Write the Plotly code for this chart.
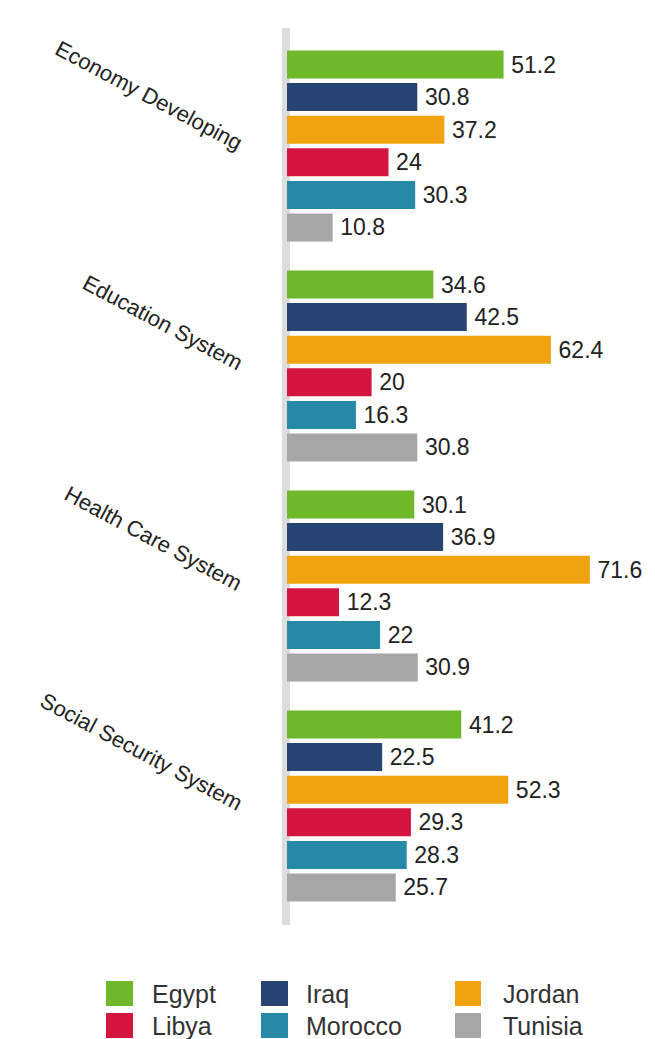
import plotly.graph_objects as go

categories = ["Economy Developing", "Education System", "Health Care System", "Social Security System"]
countries = ["Egypt", "Iraq", "Jordan", "Libya", "Morocco", "Tunisia"]
colors = ["#6fb82a", "#284472", "#f0a30f", "#d5143f", "#2789a8", "#a6a6a6"]

egypt = [51.2, 34.6, 30.1, 41.2]
iraq = [30.8, 42.5, 36.9, 22.5]
jordan = [37.2, 62.4, 71.6, 52.3]
libya = [24, 20, 12.3, 29.3]
morocco = [30.3, 16.3, 22, 28.3]
tunisia = [10.8, 30.8, 30.9, 25.7]
series = [egypt, iraq, jordan, libya, morocco, tunisia]

W, H = 655, 1039
L, R, T, B = 287, 0, 36, 123
PW, PH = W - L - R, H - T - B


def px(x):
    return (x - L) / PW


def py(y):
    return (H - B - y) / PH


FONT = "Liberation Sans, Arial, Helvetica, sans-serif"

fig = go.Figure()
for name, vals, col in zip(countries, series, colors):
    fig.add_trace(go.Bar(
        y=categories, x=vals, name=name, orientation="h",
        marker=dict(color=col, line=dict(width=0)),
        text=vals, texttemplate="\u2009%{x}", textposition="outside",
        textfont=dict(family=FONT, size=23, color="#222222"),
        constraintext="none", cliponaxis=False, showlegend=False,
    ))

shapes = [dict(type="line", xref="paper", yref="paper",
               x0=px(286), x1=px(286), y0=py(925), y1=py(28),
               line=dict(color="#dddddd", width=8), layer="below")]
annotations = []
for c in categories:
    annotations.append(dict(
        x=px(249), xref="paper", y=c, yref="y", text=c, showarrow=False,
        textangle=28, xanchor="right", yanchor="bottom", yshift=-12,
        font=dict(family=FONT, size=22, color="#222222")))

# legend (3 columns x 2 rows)
col_sw = [(106, 133), (261, 288), (455, 481)]
col_tx = [150, 304, 501]
row_y = [(981, 1006), (1013, 1038)]
for i, (name, col) in enumerate(zip(countries, colors)):
    r, c = divmod(i, 3)
    x0, x1 = col_sw[c]
    y0, y1 = row_y[r]
    shapes.append(dict(type="rect", xref="paper", yref="paper",
                       x0=px(x0), x1=px(x1), y0=py(y1), y1=py(y0),
                       fillcolor=col, line=dict(width=0)))
    annotations.append(dict(
        x=px(col_tx[c]), xref="paper", y=py((y0 + y1) / 2), yref="paper",
        text=name, showarrow=False, xanchor="left", yanchor="middle",
        font=dict(family=FONT, size=25, color="#333333")))

fig.update_layout(
    width=W, height=H,
    margin=dict(l=L, r=R, t=T, b=B, pad=0),
    paper_bgcolor="white", plot_bgcolor="white",
    barmode="group", bargap=0.111, bargroupgap=0.14,
    xaxis=dict(visible=False, range=[0, PW / 4.23], fixedrange=True),
    yaxis=dict(range=[3.5, -0.5], autorange=False, showticklabels=False,
               showgrid=False, zeroline=False, showline=False, ticks=""),
    shapes=shapes, annotations=annotations, showlegend=False,
)

fig.write_html("out.html")
